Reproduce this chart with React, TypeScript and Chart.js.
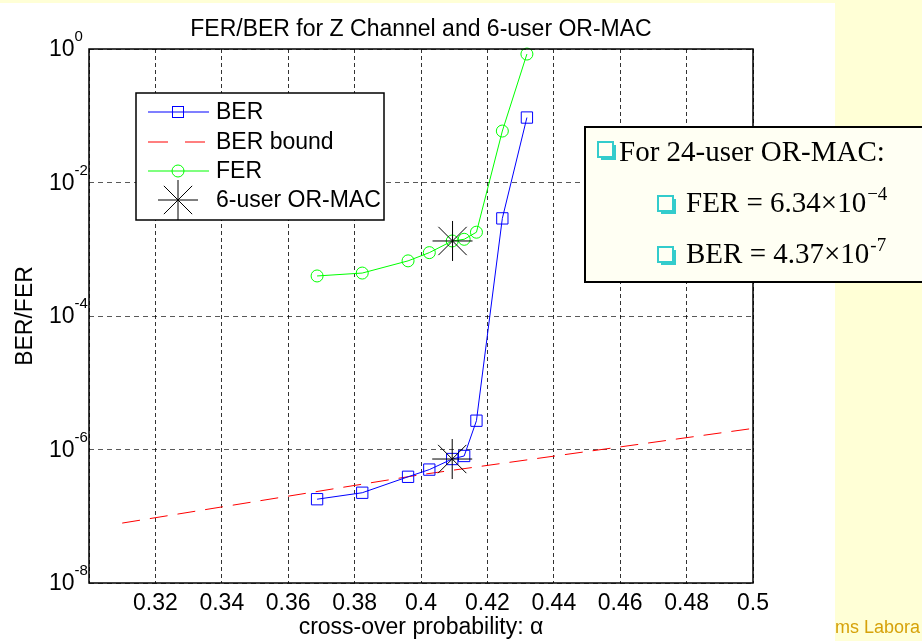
import React, { useEffect, useRef } from "react";
import { Chart, registerables } from "chart.js";

Chart.register(...registerables);

// ---------- data ----------
const alphaPoints = [0.3687, 0.3823, 0.3961, 0.4025, 0.4094, 0.413, 0.4167, 0.4245, 0.4319];
const berValues = [1.8e-7, 2.25e-7, 3.9e-7, 5.0e-7, 7.2e-7, 8.0e-7, 2.7e-6, 2.9e-3, 9.4e-2];
const ferValues = [3.98e-4, 4.4e-4, 6.7e-4, 8.9e-4, 1.33e-3, 1.41e-3, 1.8e-3, 5.9e-2, 0.84];
const boundAlpha = [0.31, 0.4, 0.5];
const boundValues = [7.9e-8, 4.2e-7, 2.07e-6];
const orMacAlpha = [0.4095, 0.4094];
const orMacValues = [1.33e-3, 7.2e-7];

const xTickValues = [0.3, 0.32, 0.34, 0.36, 0.38, 0.4, 0.42, 0.44, 0.46, 0.48, 0.5];
const xTickLabels = ["", "0.32", "0.34", "0.36", "0.38", "0.4", "0.42", "0.44", "0.46", "0.48", "0.5"];
const yTickValues = [1, 1e-2, 1e-4, 1e-6, 1e-8];
const yTickExponents = ["0", "-2", "-4", "-6", "-8"];

const titleText = "FER/BER for Z Channel and 6-user OR-MAC";
const xAxisTitle = "cross-over probability: \u03B1";
const yAxisTitle = "BER/FER";
const legendLabels = ["BER", "BER bound", "FER", "6-user OR-MAC"];
const noteLines = ["For 24-user OR-MAC:", "FER = 6.34\u00D710", "BER = 4.37\u00D710"];
const noteExponents = ["", "\u22124", "-7"];
const footerText = "ms Labora";

const BLUE = "rgb(0,0,255)";
const RED = "rgb(255,0,0)";
const GREEN = "rgb(0,255,0)";
const SANS = '"Liberation Sans", Arial, sans-serif';
const SERIF = '"Liberation Serif", "Times New Roman", serif';
const YELLOW = "rgb(255,255,214)";
const TEAL = "rgb(51,204,204)";

function toPoints(xs: number[], ys: number[]) {
  return xs.map((x, i) => ({ x, y: ys[i] }));
}

function drawBullet(ctx: CanvasRenderingContext2D, x: number, y: number, s: number) {
  ctx.save();
  ctx.fillStyle = TEAL;
  ctx.fillRect(x + 3, y + 3, s, s);
  ctx.fillStyle = "#fffff3";
  ctx.fillRect(x, y, s, s);
  ctx.strokeStyle = TEAL;
  ctx.lineWidth = 2;
  ctx.strokeRect(x, y, s, s);
  ctx.restore();
}

const decorPlugin = {
  id: "decor",
  beforeDraw(chart: any) {
    const ctx = chart.ctx as CanvasRenderingContext2D;
    ctx.save();
    ctx.fillStyle = "#ffffff";
    ctx.fillRect(0, 0, chart.width, chart.height);
    ctx.fillStyle = YELLOW;
    ctx.fillRect(835, 0, chart.width - 835, chart.height);
    ctx.fillRect(0, 0, chart.width, 3);
    ctx.restore();
  },
  afterDraw(chart: any) {
    const ctx = chart.ctx as CanvasRenderingContext2D;
    const area = chart.chartArea;
    const xs = chart.scales.x;
    const ys = chart.scales.y;
    ctx.save();

    // frame
    ctx.strokeStyle = "#000";
    ctx.lineWidth = 1.5;
    ctx.setLineDash([]);
    ctx.strokeRect(area.left, area.top, area.right - area.left, area.bottom - area.top);

    // x tick labels
    ctx.fillStyle = "#000";
    ctx.font = `23px ${SANS}`;
    ctx.textAlign = "center";
    ctx.textBaseline = "alphabetic";
    xTickValues.forEach((v, i) => {
      const px = xs.getPixelForValue(v);
      ctx.fillText(xTickLabels[i], px, area.bottom + 27);
    });

    // y tick labels
    yTickValues.forEach((v, i) => {
      const py = ys.getPixelForValue(v);
      ctx.textAlign = "left";
      ctx.font = `23px ${SANS}`;
      ctx.fillText("10", 49, py + 7);
      const w = ctx.measureText("10").width;
      ctx.font = `15px ${SANS}`;
      ctx.fillText(yTickExponents[i], 49 + w, py - 8);
    });

    // title
    ctx.font = `23px ${SANS}`;
    ctx.textAlign = "center";
    ctx.fillText(titleText, (area.left + area.right) / 2, 36);

    // x axis title
    ctx.fillText(xAxisTitle, (area.left + area.right) / 2, 634);

    // y axis title
    ctx.save();
    ctx.translate(32, (area.top + area.bottom) / 2);
    ctx.rotate(-Math.PI / 2);
    ctx.fillText(yAxisTitle, 0, 0);
    ctx.restore();

    // legend
    const lx = 136, ly = 93, lw = 248, lh = 127;
    ctx.fillStyle = "#fff";
    ctx.fillRect(lx, ly, lw, lh);
    ctx.strokeStyle = "#000";
    ctx.lineWidth = 1.5;
    ctx.strokeRect(lx, ly, lw, lh);
    const rows = [112, 142, 171, 200];
    const styles = [
      { color: BLUE, dash: [] as number[], marker: "rect", r: 8 },
      { color: RED, dash: [20, 17], marker: "", r: 0 },
      { color: GREEN, dash: [] as number[], marker: "circle", r: 6 },
      { color: "#000", dash: [] as number[], marker: "star", r: 20 },
    ];
    styles.forEach((s, i) => {
      const cy = rows[i];
      if (s.marker !== "star") {
        ctx.save();
        ctx.strokeStyle = s.color;
        ctx.lineWidth = 1.2;
        ctx.setLineDash(s.dash);
        ctx.beginPath();
        ctx.moveTo(148, cy);
        ctx.lineTo(209, cy);
        ctx.stroke();
        ctx.restore();
      }
      if (s.marker) {
        ctx.save();
        ctx.strokeStyle = s.color;
        ctx.lineWidth = 1;
        (Chart as any).helpers
          ? null
          : null;
        ctx.restore();
      }
      ctx.fillStyle = "#000";
      ctx.font = `23px ${SANS}`;
      ctx.textAlign = "left";
      ctx.textBaseline = "middle";
      ctx.fillText(legendLabels[i], 216, cy + 1);
      ctx.textBaseline = "alphabetic";
    });
    // legend markers
    ctx.save();
    ctx.lineWidth = 1;
    ctx.strokeStyle = BLUE;
    ctx.strokeRect(178 - 5.5, rows[0] - 5.5, 11, 11);
    ctx.strokeStyle = GREEN;
    ctx.beginPath();
    ctx.arc(178, rows[2], 6, 0, Math.PI * 2);
    ctx.stroke();
    ctx.strokeStyle = "#000";
    ctx.beginPath();
    const d = 20 * Math.SQRT1_2;
    ctx.moveTo(178 - 20, rows[3]);
    ctx.lineTo(178 + 20, rows[3]);
    ctx.moveTo(178, rows[3] - 20);
    ctx.lineTo(178, rows[3] + 20);
    ctx.moveTo(178 - d, rows[3] - d);
    ctx.lineTo(178 + d, rows[3] + d);
    ctx.moveTo(178 - d, rows[3] + d);
    ctx.lineTo(178 + d, rows[3] - d);
    ctx.stroke();
    ctx.restore();

    // annotation box
    ctx.fillStyle = "#fffff3";
    ctx.fillRect(585, 127, 345, 155);
    ctx.strokeStyle = "#000";
    ctx.lineWidth = 2;
    ctx.strokeRect(585, 127, 345, 155);

    drawBullet(ctx, 598, 142, 15);
    ctx.fillStyle = "#000";
    ctx.font = `29px ${SERIF}`;
    ctx.textAlign = "left";
    ctx.fillText(noteLines[0], 619, 161);

    [1, 2].forEach((k) => {
      const base = k === 1 ? 212 : 263;
      drawBullet(ctx, 658, base - 16, 15);
      ctx.fillStyle = "#000";
      ctx.font = `29px ${SERIF}`;
      ctx.fillText(noteLines[k], 686, base);
      const w = ctx.measureText(noteLines[k]).width;
      ctx.font = `19px ${SERIF}`;
      ctx.fillText(noteExponents[k], 686 + w + 1, base - 12);
    });

    // footer
    ctx.fillStyle = "rgb(214,162,10)";
    ctx.font = `18px ${SANS}`;
    ctx.fillText(footerText, 835, 633);

    ctx.restore();
  },
};

export default function App() {
  const canvasRef = useRef<HTMLCanvasElement | null>(null);

  useEffect(() => {
    if (!canvasRef.current) return;
    const chart = new Chart(canvasRef.current, {
      type: "line",
      data: {
        datasets: [
          {
            label: legendLabels[3],
            data: toPoints(orMacAlpha, orMacValues),
            showLine: false,
            pointStyle: "star",
            pointRadius: 20,
            pointBorderColor: "#000",
            pointBorderWidth: 1,
            borderColor: "#000",
            backgroundColor: "transparent",
            clip: 30,
          },
          {
            label: legendLabels[0],
            data: toPoints(alphaPoints, berValues),
            borderColor: BLUE,
            borderWidth: 1,
            pointStyle: "rect",
            pointRadius: 8,
            pointBorderColor: BLUE,
            pointBorderWidth: 1,
            pointBackgroundColor: "transparent",
            backgroundColor: "transparent",
            tension: 0,
            clip: 20,
          },
          {
            label: legendLabels[1],
            data: toPoints(boundAlpha, boundValues),
            borderColor: RED,
            borderWidth: 1,
            borderDash: [18, 10],
            pointRadius: 0,
            backgroundColor: "transparent",
            tension: 0,
          },
          {
            label: legendLabels[2],
            data: toPoints(alphaPoints, ferValues),
            borderColor: GREEN,
            borderWidth: 1,
            pointStyle: "circle",
            pointRadius: 6,
            pointBorderColor: GREEN,
            pointBorderWidth: 1,
            pointBackgroundColor: "transparent",
            backgroundColor: "transparent",
            tension: 0,
            clip: 20,
          },
        ],
      },
      options: {
        responsive: false,
        animation: false,
        events: [],
        layout: { padding: { left: 89, top: 49, right: 169, bottom: 58 } },
        plugins: {
          legend: { display: false },
          title: { display: false },
          tooltip: { enabled: false },
        },
        scales: {
          x: {
            type: "linear",
            min: 0.3,
            max: 0.5,
            afterBuildTicks: (axis: any) => {
              axis.ticks = xTickValues.map((v) => ({ value: v }));
            },
            ticks: { display: false },
            grid: { color: "rgba(0,0,0,0.8)", lineWidth: 1, drawTicks: false },
            border: { display: false, dash: [4, 3] },
          },
          y: {
            type: "logarithmic",
            min: 1e-8,
            max: 1,
            afterBuildTicks: (axis: any) => {
              axis.ticks = yTickValues.map((v) => ({ value: v }));
            },
            ticks: { display: false },
            grid: { color: "rgba(0,0,0,0.65)", lineWidth: 1, drawTicks: false },
            border: { display: false, dash: [5, 4] },
          },
        },
      },
      plugins: [decorPlugin],
    } as any);
    return () => chart.destroy();
  }, []);

  return (
    <div style={{ position: "absolute", left: 0, top: 0, width: 922, height: 641 }}>
      <canvas ref={canvasRef} width={922} height={641} style={{ width: 922, height: 641, display: "block" }} />
    </div>
  );
}
